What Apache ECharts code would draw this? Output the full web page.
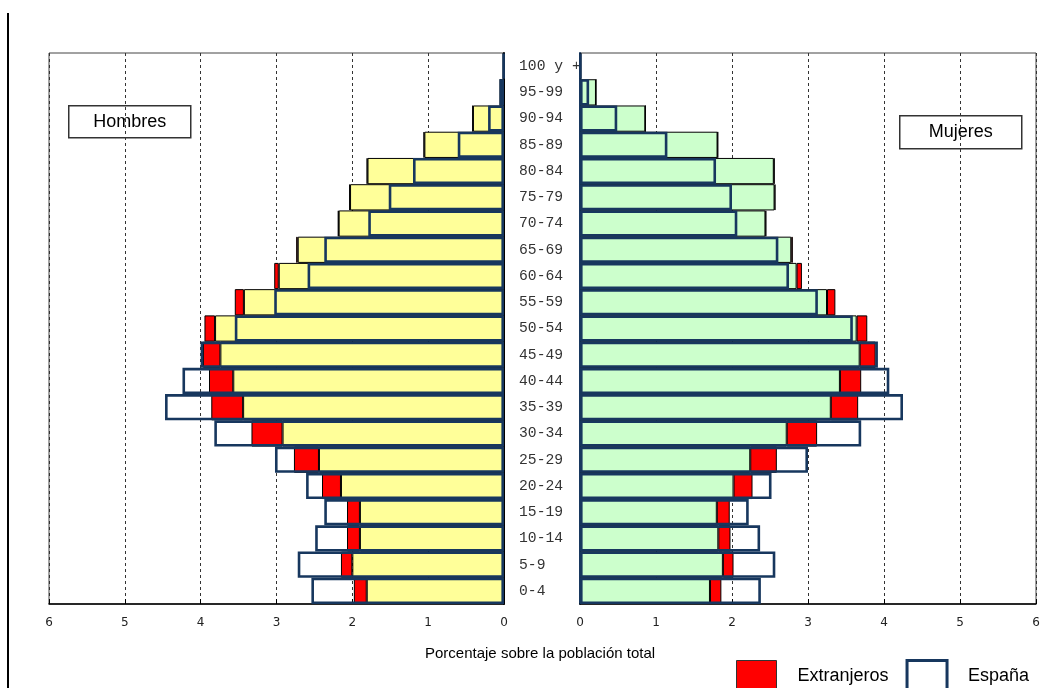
<!DOCTYPE html>
<html>
<head>
<meta charset="utf-8">
<script src="https://cdn.jsdelivr.net/npm/echarts@6/dist/echarts.min.js"></script>
<style>html,body{margin:0;padding:0;background:#fff;}#c{width:1060px;height:688px;}</style>
</head>
<body>
<div id="c"></div>
<script>
const ages = ['0-4','5-9','10-14','15-19','20-24','25-29','30-34','35-39','40-44','45-49','50-54','55-59','60-64','65-69','70-74','75-79','80-84','85-89','90-94','95-99','100 y +'];
const xTicks = [0,1,2,3,4,5,6];
const menNational = [1.81,2.00,1.90,1.90,2.15,2.44,2.92,3.44,3.57,3.74,3.81,3.43,2.97,2.72,2.18,2.03,1.80,1.05,0.41,0.05,0.01];
const menForeign  = [0.17,0.15,0.17,0.17,0.25,0.33,0.41,0.42,0.32,0.23,0.14,0.12,0.06,0.02,0.01,0.01,0.01,0.01,0.005,0,0];
const menSpain    = [2.54,2.72,2.49,2.37,2.61,3.02,3.82,4.47,4.24,4.00,3.55,3.03,2.59,2.37,1.79,1.52,1.20,0.61,0.21,0.06,0.01];
const womenNational = [1.71,1.88,1.82,1.80,2.02,2.24,2.72,3.30,3.42,3.68,3.64,3.25,2.85,2.78,2.44,2.56,2.55,1.81,0.86,0.21,0.01];
const womenForeign  = [0.15,0.14,0.16,0.17,0.25,0.35,0.40,0.36,0.28,0.21,0.14,0.11,0.07,0.02,0.01,0.01,0.01,0.005,0,0,0];
const womenSpain    = [2.38,2.57,2.37,2.22,2.52,3.00,3.70,4.25,4.07,3.92,3.59,3.13,2.75,2.61,2.07,2.00,1.79,1.15,0.49,0.12,0.01];

const NAVY = '#17375e';
const chart = echarts.init(document.getElementById('c'), null, {renderer:'canvas'});

function xAx(idx, inverse){
  return {
    type:'value', gridIndex:idx, min:xTicks[0], max:xTicks[xTicks.length-1], interval:1, inverse:inverse,
    axisLine:{show:true, onZero:false, lineStyle:{color:'#000', width:1.5}},
    axisTick:{show:true, inside:true, length:5, lineStyle:{color:'#000'}},
    axisLabel:{show:true, margin:13, color:'#222', fontSize:12, fontFamily:'DejaVu Sans', showMinLabel:true, showMaxLabel:true},
    splitLine:{show:true, lineStyle:{color:'#333', type:[3,3], width:1}}
  };
}
function bars(gi, nat, fgn, esp, fill, natName){
  return [
    {name:natName, type:'bar', xAxisIndex:gi, yAxisIndex:gi, stack:'s'+gi, data:nat, barCategoryGap:'0%',
     itemStyle:{color:fill, borderColor:'#000', borderWidth:1}, emphasis:{disabled:true}, animation:false},
    {name:'Extranjeros', type:'bar', xAxisIndex:gi, yAxisIndex:gi, stack:'s'+gi, data:fgn, barCategoryGap:'0%',
     itemStyle:{color:'#ff0000', borderColor:'#000', borderWidth:1}, emphasis:{disabled:true}, animation:false},
    {name:'España', type:'bar', xAxisIndex:gi, yAxisIndex:gi, data:esp, barGap:'-100%', barCategoryGap:'0%',
     itemStyle:{color:'rgba(0,0,0,0)', borderColor:NAVY, borderWidth:2.6}, emphasis:{disabled:true}, animation:false}
  ];
}

chart.setOption({
  animation:false,
  backgroundColor:'#fff',
  grid:[
    {left:49, right:556, top:53, bottom:84, show:true, borderColor:'#444', borderWidth:1, backgroundColor:'#fff'},
    {left:580, right:24, top:53, bottom:84, show:true, borderColor:'#444', borderWidth:1, backgroundColor:'#fff'}
  ],
  xAxis:[xAx(0,true), xAx(1,false)],
  yAxis:[
    {type:'category', gridIndex:0, data:ages, position:'right',
     axisLine:{show:true, lineStyle:{color:'#000', width:2}}, axisTick:{show:false}, axisLabel:{show:false}, splitLine:{show:false}},
    {type:'category', gridIndex:1, data:ages, position:'left',
     axisLine:{show:true, lineStyle:{color:NAVY, width:2}}, axisTick:{show:false},
     axisLabel:{show:true, align:'left', margin:61, color:'#333', fontSize:14.7, fontFamily:'Liberation Mono'}, splitLine:{show:false}}
  ],
  legend:{
    left:736, top:659, padding:0, orient:'horizontal', itemWidth:40, itemHeight:31, itemGap:17, icon:'rect',
    selectedMode:false,
    textStyle:{fontSize:18, fontFamily:'Liberation Sans', color:'#000', padding:[0,0,0,16]},
    data:[
      {name:'Extranjeros', itemStyle:{color:'#ff0000', borderColor:'#333', borderWidth:1}},
      {name:'España', itemStyle:{color:'#fff', borderColor:NAVY, borderWidth:3}}
    ]
  },
  series:[].concat(
    bars(0, menNational, menForeign, menSpain, '#ffff99', 'Hombres'),
    bars(1, womenNational, womenForeign, womenSpain, '#ccffcc', 'Mujeres')
  ),
  graphic:[
    {type:'line', shape:{x1:8, y1:13, x2:8, y2:688}, style:{stroke:'#000', lineWidth:2}, z:100},
    {type:'group', left:68, top:105, z:100, children:[
      {type:'rect', shape:{x:0, y:0, width:122, height:32}, style:{fill:'#fff', stroke:'#333', lineWidth:1.5}},
      {type:'text', x:61, y:16, style:{text:'Hombres', fill:'#000', font:'18px "Liberation Sans"', textAlign:'center', textVerticalAlign:'middle'}}
    ]},
    {type:'group', left:899, top:115, z:100, children:[
      {type:'rect', shape:{x:0, y:0, width:122, height:33}, style:{fill:'#fff', stroke:'#333', lineWidth:1.5}},
      {type:'text', x:61, y:16.5, style:{text:'Mujeres', fill:'#000', font:'18px "Liberation Sans"', textAlign:'center', textVerticalAlign:'middle'}}
    ]},
    {type:'text', left:425, top:646, z:100, style:{text:'Porcentaje sobre la población total', fill:'#000', font:'15px "Liberation Sans"'}}
  ]
});
</script>
</body>
</html>
